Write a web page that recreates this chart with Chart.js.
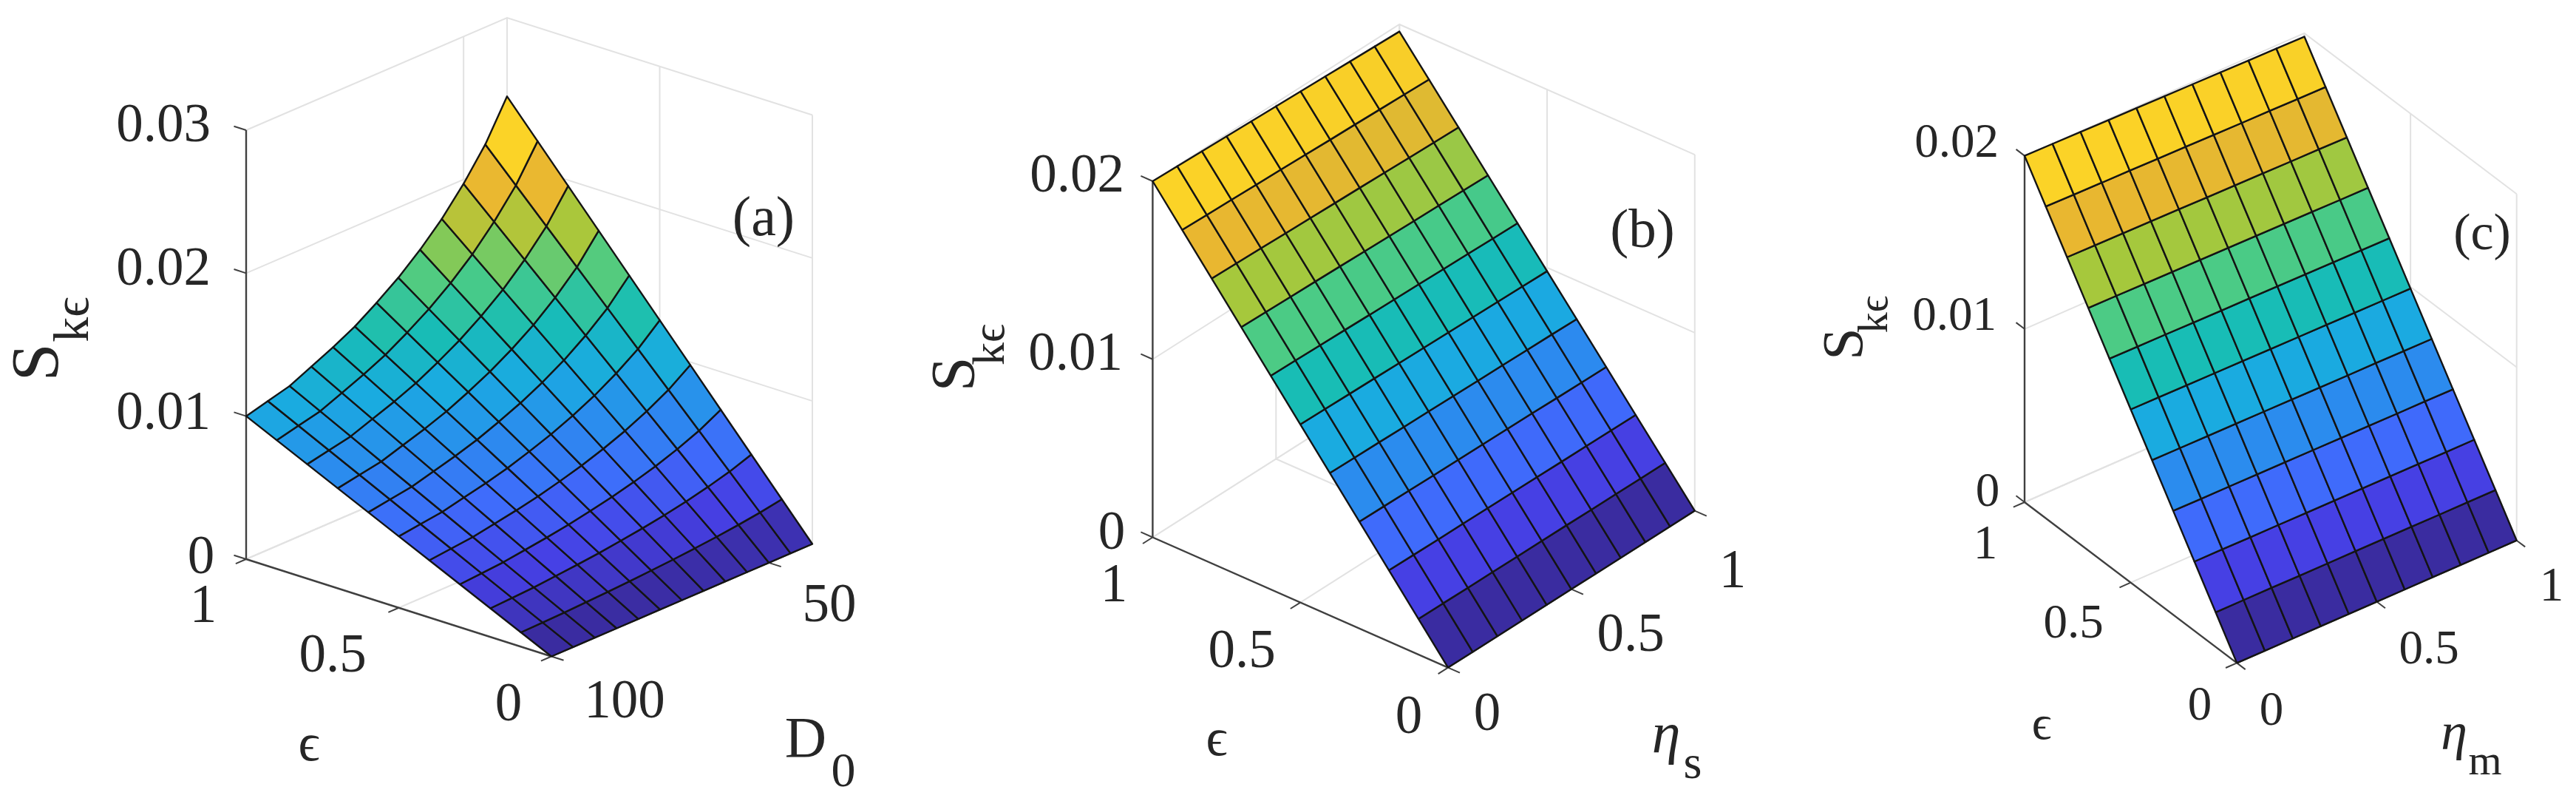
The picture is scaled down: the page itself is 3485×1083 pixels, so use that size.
<!DOCTYPE html>
<html lang="en">
<head>
  <meta charset="UTF-8" />
  <title>S_ke surfaces</title>
  <script src="https://cdn.jsdelivr.net/npm/chart.js"></script>
  <style>
    html, body { margin: 0; background: #fff; overflow: hidden; }
    canvas { position: absolute; top: 0; }
  </style>
</head>
<body>
  <canvas id="panelA"></canvas>
  <canvas id="panelB"></canvas>
  <canvas id="panelC"></canvas>

  <script>
    // values, rows go epsilon = 0 ... 1
    const epsValues = [0, 0.1, 0.2, 0.3, 0.4, 0.5, 0.6, 0.7, 0.8, 0.9, 1];
    const d0Values = [100, 95, 90, 85, 80, 75, 70, 65, 60, 55, 50, 45, 40];
    const etaValues = [0, 0.1, 0.2, 0.3, 0.4, 0.5, 0.6, 0.7, 0.8, 0.9, 1];

    const skeA = [
      [0, 0, 0, 0, 0, 0, 0, 0, 0, 0, 0, 0, 0],
      [.00100, .00104, .00108, .00115, .00122, .00130, .00140, .00151, .00164, .00179, .00197, .00218, .00245],
      [.00200, .00208, .00216, .00230, .00244, .00260, .00280, .00302, .00328, .00358, .00394, .00436, .00490],
      [.00300, .00312, .00324, .00345, .00366, .00390, .00420, .00453, .00492, .00537, .00591, .00654, .00735],
      [.00400, .00416, .00432, .00460, .00488, .00520, .00560, .00604, .00656, .00716, .00788, .00872, .00980],
      [.00500, .00520, .00540, .00575, .00610, .00650, .00700, .00755, .00820, .00895, .00985, .01090, .01225],
      [.00600, .00624, .00648, .00690, .00732, .00780, .00840, .00906, .00984, .01074, .01182, .01308, .01470],
      [.00700, .00728, .00756, .00805, .00854, .00910, .00980, .01057, .01148, .01253, .01379, .01526, .01715],
      [.00800, .00832, .00864, .00920, .00976, .01040, .01120, .01208, .01312, .01432, .01576, .01744, .01960],
      [.00900, .00936, .00972, .01035, .01098, .01170, .01260, .01359, .01476, .01611, .01773, .01962, .02205],
      [.01000, .01040, .01080, .01150, .01220, .01300, .01400, .01510, .01640, .01790, .01970, .02180, .02450]
    ];
    const skeB = [
      [0, 0, 0, 0, 0, 0, 0, 0, 0, 0, 0],
      [.00200, .00200, .00199, .00199, .00198, .00198, .00198, .00197, .00197, .00196, .00196],
      [.00400, .00399, .00398, .00398, .00397, .00396, .00395, .00394, .00394, .00393, .00392],
      [.00600, .00599, .00598, .00596, .00595, .00594, .00593, .00592, .00590, .00589, .00588],
      [.00800, .00798, .00797, .00795, .00794, .00792, .00790, .00789, .00787, .00786, .00784],
      [.01000, .00998, .00996, .00994, .00992, .00990, .00988, .00986, .00984, .00982, .00980],
      [.01200, .01198, .01195, .01193, .01190, .01188, .01186, .01183, .01181, .01178, .01176],
      [.01400, .01397, .01394, .01392, .01389, .01386, .01383, .01380, .01378, .01375, .01372],
      [.01600, .01597, .01594, .01590, .01587, .01584, .01581, .01578, .01574, .01571, .01568],
      [.01800, .01796, .01793, .01789, .01786, .01782, .01778, .01775, .01771, .01768, .01764],
      [.02000, .01996, .01992, .01988, .01984, .01980, .01976, .01972, .01968, .01964, .01960]
    ];
    const skeC = [
      [0, 0, 0, 0, 0, 0, 0, 0, 0, 0, 0],
      [.00200, .00200, .00200, .00199, .00199, .00199, .00199, .00199, .00198, .00198, .00198],
      [.00400, .00400, .00399, .00399, .00398, .00398, .00398, .00397, .00397, .00396, .00396],
      [.00600, .00599, .00599, .00598, .00598, .00597, .00596, .00596, .00595, .00595, .00594],
      [.00800, .00799, .00798, .00798, .00797, .00796, .00795, .00794, .00794, .00793, .00792],
      [.01000, .00999, .00998, .00997, .00996, .00995, .00994, .00993, .00992, .00991, .00990],
      [.01200, .01199, .01198, .01196, .01195, .01194, .01193, .01192, .01190, .01189, .01188],
      [.01400, .01399, .01397, .01396, .01394, .01393, .01392, .01390, .01389, .01387, .01386],
      [.01600, .01598, .01597, .01595, .01594, .01592, .01590, .01589, .01587, .01586, .01584],
      [.01800, .01798, .01796, .01795, .01793, .01791, .01789, .01787, .01786, .01784, .01782],
      [.02000, .01998, .01996, .01994, .01992, .01990, .01988, .01986, .01984, .01982, .01980]
    ];

    const epsTicks = [0, 0.5, 1];
    const d0Ticks = [50, 100];
    const etaTicks = [0, 0.5, 1];
    const zTicksA = [0, 0.01, 0.02, 0.03];
    const zTicksBC = [0, 0.01, 0.02];

    // low to high, sampled from the surface colours
    const surfaceColors = ['#3a2ca0', '#4640e4', '#3f6bfb', '#2b8cee', '#1aabe0',
                           '#18bdb5', '#4ccb85', '#a6c83c', '#e9b730', '#fbd327'];

    const FONT = '"Liberation Serif", serif';
    const TEXT = '#262626';
    const AXIS = '#404040';
    const GRID = '#e2e2e2';
    const TICK_LEN = 0.04;

    function hexRgb(h) {
      return [1, 3, 5].map(i => parseInt(h.substr(i, 2), 16));
    }

    function rampColor(t) {
      const p = Math.max(0, Math.min(1, t)) * (surfaceColors.length - 1);
      const i = Math.min(Math.floor(p), surfaceColors.length - 2);
      const a = hexRgb(surfaceColors[i]), b = hexRgb(surfaceColors[i + 1]);
      const c = a.map((v, k) => Math.round(v + (b[k] - v) * (p - i)));
      return `rgb(${c[0]},${c[1]},${c[2]})`;
    }

    function line(points, color, width) {
      return {
        data: points, showLine: true, fill: false, tension: 0,
        borderColor: color, borderWidth: width, pointRadius: 0
      };
    }

    function buildPanel(cfg) {
      const xs = cfg.xValues, zs = cfg.values;
      const x0 = cfg.xRange[0], x1 = cfg.xRange[1];
      const zMax = cfg.zTicks[cfg.zTicks.length - 1];

      // orthographic view, same as the view(az,el) box of the source figure
      const project = (eps, xv, z) => {
        const u = (xv - x0) / (x1 - x0), v = 1 - eps;
        return {
          x: cfg.origin[0] + v * (cfg.front[0] - cfg.origin[0]) + u * (cfg.right[0] - cfg.front[0]),
          y: cfg.origin[1] + v * (cfg.front[1] - cfg.origin[1]) + u * (cfg.right[1] - cfg.front[1])
             - z / zMax * (cfg.origin[1] - cfg.zTop)
        };
      };

      const sets = [];

      // walls and floor
      cfg.zTicks.forEach(z => {
        sets.push(line([project(1, x0, z), project(1, x1, z), project(0, x1, z)], GRID, 2));
      });
      cfg.xTicks.concat([x1]).forEach(t => {
        sets.push(line([project(0, t, 0), project(1, t, 0), project(1, t, zMax)], GRID, 2));
      });
      epsTicks.forEach(e => {
        sets.push(line([project(e, x0, 0), project(e, x1, 0), project(e, x1, zMax)], GRID, 2));
      });

      // axes and tick marks
      sets.push(line([project(1, x0, 0), project(1, x0, zMax)], AXIS, 2.4));
      sets.push(line([project(1, x0, 0), project(0, x0, 0)], AXIS, 2.4));
      sets.push(line([project(0, x0, 0), project(0, x1, 0)], AXIS, 2.4));
      const dx = (x1 - x0) * TICK_LEN;
      cfg.zTicks.forEach(z => {
        sets.push(line([project(1, x0, z), project(1 + TICK_LEN, x0, z)], AXIS, 2));
      });
      epsTicks.forEach(e => {
        sets.push(line([project(e, x0, 0), project(e, x0 - dx, 0)], AXIS, 2));
      });
      cfg.xTicks.forEach(t => {
        sets.push(line([project(0, t, 0), project(-TICK_LEN, t, 0)], AXIS, 2));
      });

      // surface cells, coloured by the mean of their corners
      const cells = [];
      for (let i = 0; i < epsValues.length - 1; i++) {
        for (let j = 0; j < xs.length - 1; j++) {
          const mean = (zs[i][j] + zs[i + 1][j] + zs[i][j + 1] + zs[i + 1][j + 1]) / 4;
          cells.push({ i, j, mean });
        }
      }
      const lo = Math.min(...cells.map(c => c.mean));
      const hi = Math.max(...cells.map(c => c.mean));
      cells.forEach(({ i, j, mean }) => {
        const corner = (a, b) => project(epsValues[a], xs[b], zs[a][b]);
        sets.push({
          data: [corner(i, j), corner(i + 1, j), corner(i + 1, j + 1), corner(i, j + 1), corner(i, j)],
          showLine: true, fill: 'shape', tension: 0,
          backgroundColor: rampColor((mean - lo) / (hi - lo)),
          borderColor: '#141414', borderWidth: 2.4, borderJoinStyle: 'round', pointRadius: 0
        });
      });

      const labelsPlugin = {
        id: 'panelLabels',
        afterDraw(chart) {
          const c = chart.ctx, sx = chart.scales.x, sy = chart.scales.y;
          c.save();
          c.fillStyle = TEXT;
          c.textAlign = 'center';
          c.textBaseline = 'alphabetic';
          cfg.labels.forEach(l => {
            c.save();
            c.translate(sx.getPixelForValue(l.x), sy.getPixelForValue(l.y));
            if (l.rot) c.rotate(l.rot);
            c.font = `${l.style || ''} ${l.size}px ${FONT}`;
            // x, y is the middle of a digit height
            c.fillText(l.text, 0, 0.33 * l.size);
            c.restore();
          });
          c.restore();
        }
      };

      const canvas = document.getElementById(cfg.canvas);
      canvas.width = cfg.bounds[1] - cfg.bounds[0];
      canvas.height = 1083;
      canvas.style.left = cfg.bounds[0] + 'px';

      return new Chart(canvas.getContext('2d'), {
        type: 'scatter',
        // chart.js paints the first dataset last
        data: { datasets: sets.reverse() },
        options: {
          responsive: false,
          animation: false,
          devicePixelRatio: 1,
          layout: { padding: 0 },
          plugins: { legend: { display: false }, tooltip: { enabled: false } },
          scales: {
            x: { type: 'linear', display: false, min: cfg.bounds[0], max: cfg.bounds[1] },
            y: { type: 'linear', display: false, reverse: true, min: 0, max: 1083 }
          }
        },
        plugins: [labelsPlugin]
      });
    }

    const TICK = 73;
    const TICK_C = 65;
    const R90 = -Math.PI / 2;

    buildPanel({
      canvas: 'panelA', bounds: [0, 1180],
      values: skeA, xValues: d0Values, xRange: [100, 40], xTicks: d0Ticks, zTicks: zTicksA,
      origin: [333, 756], front: [746, 887.5], right: [1099, 735.5], zTop: 176,
      labels: [
        { text: '0.03', x: 221, y: 167, size: TICK },
        { text: '0.02', x: 221, y: 361, size: TICK },
        { text: '0.01', x: 221, y: 556, size: TICK },
        { text: '0', x: 272, y: 751, size: TICK },
        { text: '1', x: 275, y: 817, size: TICK },
        { text: '0.5', x: 450, y: 884, size: TICK },
        { text: '0', x: 688, y: 950, size: TICK },
        { text: '100', x: 845, y: 946, size: TICK },
        { text: '50', x: 1122, y: 816, size: TICK },
        { text: 'ϵ', x: 418, y: 1004, size: 72 },
        { text: 'D', x: 1090, y: 997, size: 78 },
        { text: '0', x: 1141, y: 1041, size: 66 },
        { text: 'S', x: 48, y: 490, size: 92, rot: R90 },
        { text: 'kϵ', x: 97, y: 432, size: 68, rot: R90 },
        { text: '(a)', x: 1033, y: 293, size: 76 }
      ]
    });

    buildPanel({
      canvas: 'panelB', bounds: [1180, 2380],
      values: skeB, xValues: etaValues, xRange: [0, 1], xTicks: etaTicks, zTicks: zTicksBC,
      origin: [1559.4, 726.5], front: [1959, 902.6], right: [2292.8, 690.6], zTop: 245,
      labels: [
        { text: '0.02', x: 1457, y: 235, size: TICK },
        { text: '0.01', x: 1455, y: 476, size: TICK },
        { text: '0', x: 1504, y: 718, size: TICK },
        { text: '1', x: 1507, y: 789, size: TICK },
        { text: '0.5', x: 1680, y: 878, size: TICK },
        { text: '0', x: 1906, y: 967, size: TICK },
        { text: '0', x: 2012, y: 963, size: TICK },
        { text: '0.5', x: 2206, y: 856, size: TICK },
        { text: '1', x: 2344, y: 770, size: TICK },
        { text: 'ϵ', x: 1646, y: 997, size: 72 },
        { text: 'η', x: 2254, y: 991, size: 78, style: 'italic' },
        { text: 's', x: 2290, y: 1031, size: 64 },
        { text: 'S', x: 1290, y: 506, size: 84, rot: R90 },
        { text: 'kϵ', x: 1338, y: 466, size: 62, rot: R90 },
        { text: '(b)', x: 2222, y: 309, size: 75 }
      ]
    });

    buildPanel({
      canvas: 'panelC', bounds: [2380, 3485],
      values: skeC, xValues: etaValues, xRange: [0, 1], xTicks: etaTicks, zTicks: zTicksBC,
      origin: [2739, 679], front: [3026.2, 896.4], right: [3404.7, 730.7], zTop: 210.6,
      labels: [
        { text: '0.02', x: 2647, y: 191, size: TICK_C },
        { text: '0.01', x: 2644, y: 425, size: TICK_C },
        { text: '0', x: 2689, y: 663, size: TICK_C },
        { text: '1', x: 2686, y: 734, size: TICK_C },
        { text: '0.5', x: 2805, y: 841, size: TICK_C },
        { text: '0', x: 2976, y: 952, size: TICK_C },
        { text: '0', x: 3073, y: 959, size: TICK_C },
        { text: '0.5', x: 3286, y: 876, size: TICK_C },
        { text: '1', x: 3452, y: 791, size: TICK_C },
        { text: 'ϵ', x: 2762, y: 977, size: 66 },
        { text: 'η', x: 3320, y: 989, size: 72, style: 'italic' },
        { text: 'm', x: 3362, y: 1028, size: 58 },
        { text: 'S', x: 2493, y: 465, size: 78, rot: R90 },
        { text: 'kϵ', x: 2535, y: 425, size: 56, rot: R90 },
        { text: '(c)', x: 3358, y: 314, size: 70 }
      ]
    });
  </script>
</body>
</html>
